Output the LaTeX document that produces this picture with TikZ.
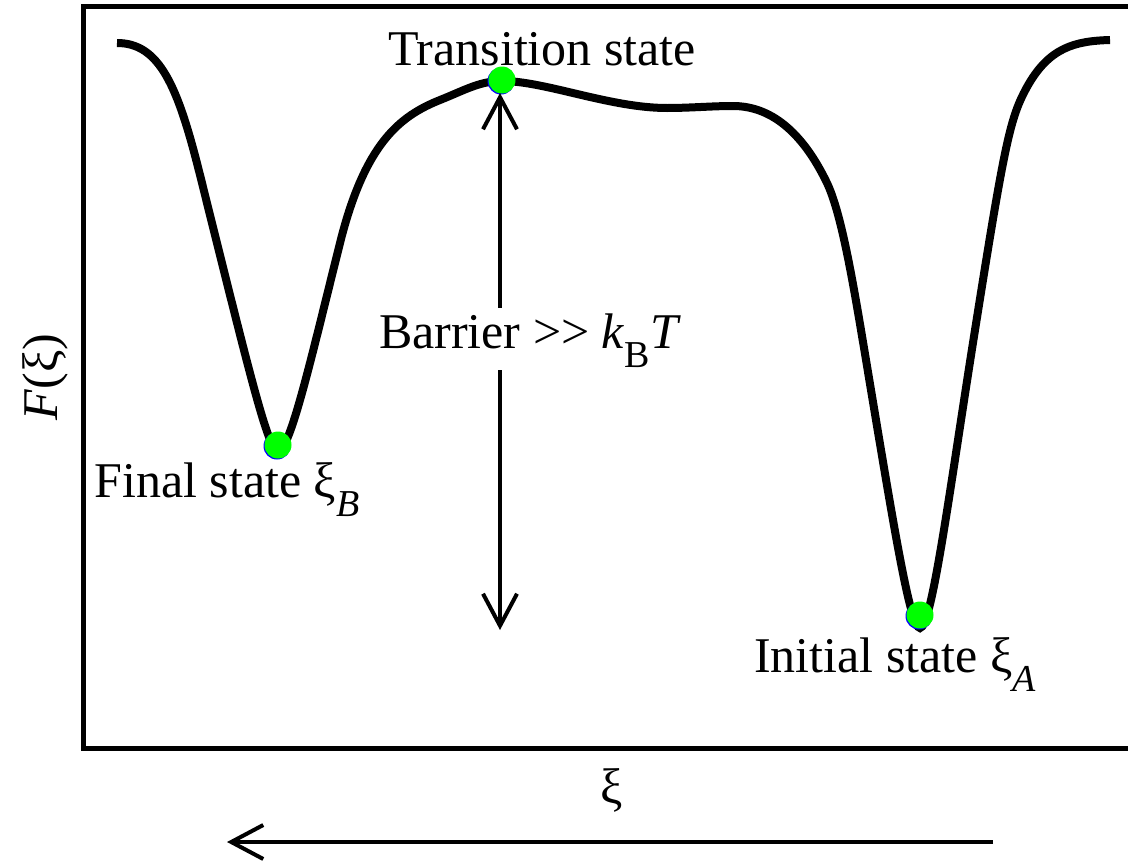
\documentclass[tikz,border=0pt]{standalone}
\usepackage{fontspec}
\setmainfont{Liberation Serif}
\usetikzlibrary{arrows.meta, positioning}
\newcommand{\lowsub}[1]{\raisebox{-9.5pt}{\fontsize{19}{21}\selectfont #1}}

\begin{document}
\begin{tikzpicture}[x=0.5pt, y=-0.5pt,
    curve/.style={line width=4pt},
    frame/.style={line width=2.5pt},
    arr/.style={line width=2pt, -{Straight Barb[length=16pt, width=17pt]}},
    dot/.style={circle, fill=green, inner sep=0pt, minimum size=13.5pt},
    under/.style={circle, fill=blue, inner sep=0pt, minimum size=13.5pt},
    lbl/.style={font=\fontsize{25}{29}\selectfont, inner sep=0pt, anchor=base},
  ]
  \useasboundingbox (0,0) rectangle (1128,862);
  \draw[frame] (83.5,6.5) rectangle (1160,748);
  % free energy profile
  \draw[curve] (117,43) .. controls (160,43) and (178,87) .. (200,175)
      .. controls (250,375) and (268,451) .. (278,451)
      .. controls (290,451) and (310,363) .. (340,243)
      .. controls (365,143) and (400,116) .. (440,100)
      .. controls (465,90) and (480,81) .. (502,81)
      .. controls (545,81) and (610,108) .. (667,108)
      .. controls (690,108) and (712,106) .. (733,106)
      .. controls (770,106) and (802,131) .. (827,183)
      .. controls (842,214.5) and (854,288) .. (866,360)
      .. controls (894,528) and (910,628) .. (920,628)
      .. controls (932,628) and (950,487) .. (975,330)
      .. controls (1005,141) and (1010,118) .. (1027,87)
      .. controls (1049,47.4) and (1075,41) .. (1110,40);
  \node[under] (tsu) at (501,81) {};
  \node[under] (fsu) at (277,446) {};
  \node[under] (isu) at (919,616) {};
  \node[dot] (ts) at (502,80) {};
  \node[dot] (fs) at (278,445) {};
  \node[dot] (is) at (920,615) {};
  \node[lbl] (tslbl) at (542,65) {Transition state};
  \node[lbl] (fslbl) at (227,497) {Final state ξ\lowsub{\textit{B}}};
  \node[lbl] (islbl) at (895,672) {Initial state ξ\lowsub{\textit{A}}};
  \node[lbl, text height=17pt, text depth=8pt, inner ysep=3pt] (barrier) at (530,348)
      {Barrier >\kern0pt> \textit{k}\lowsub{B}\textit{T}};
  \coordinate (bartop) at (500,93);
  \coordinate (barbot) at (500,630);
  \draw[arr] (barrier.north -| bartop) -- (bartop);
  \draw[arr] (barrier.south -| barbot) -- (barbot);
  % axis labels
  \node[lbl, rotate=90, anchor=center] (ylbl) at (45,377) {\textit{F}(ξ)};
  \node[lbl, anchor=center] (xlbl) at (612,790) {ξ};
  \coordinate (dirstart) at (993,842);
  \coordinate (dirend) at (227,842);
  \draw[arr] (dirstart) -- (dirend);
\end{tikzpicture}
\end{document}
